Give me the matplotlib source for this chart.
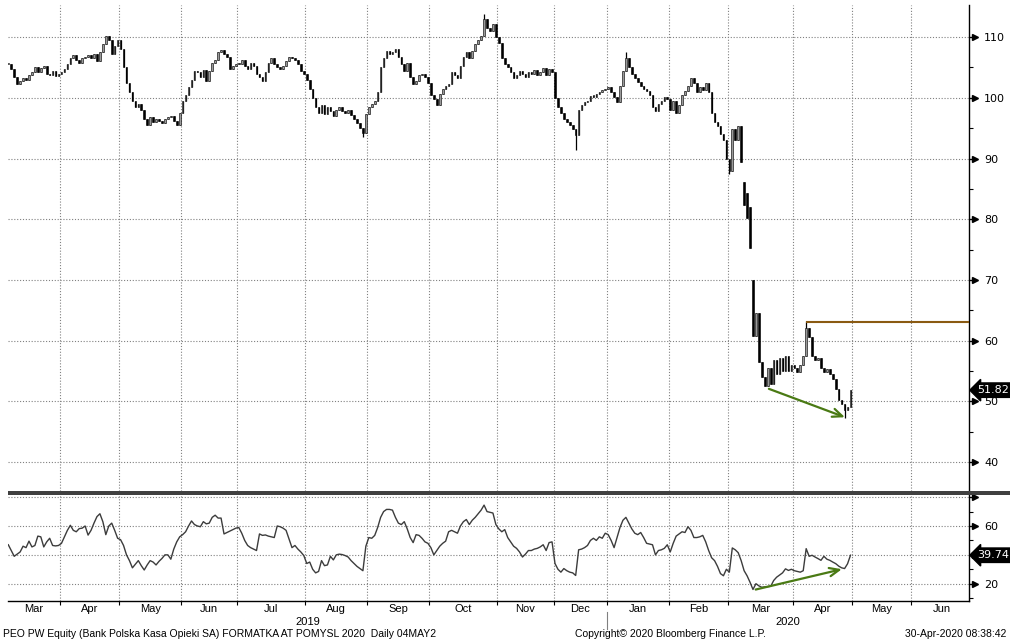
import matplotlib
matplotlib.use("Agg")
import matplotlib.pyplot as plt
from matplotlib.patches import Rectangle
import numpy as np

# month labels and number of trading sessions shown in each month
months = ["Mar", "Apr", "May", "Jun", "Jul", "Aug", "Sep", "Oct", "Nov", "Dec",
          "Jan", "Feb", "Mar", "Apr", "May", "Jun"]
month_days = [18, 20, 21, 19, 23, 21, 21, 23, 19, 18, 21, 20, 22, 20, 20, 21]
years = ["2019", "2020"]
months_in_year = [10, 6]

# daily closes, PEO PW
close_mar19 = [105.5, 104.8, 103.5, 102.3, 102.8, 103.2, 102.9, 103.8, 104.2, 105.0,
               104.3, 104.9, 105.3, 104.0, 103.8, 104.4, 103.6, 104.0]
close_apr19 = [104.3, 104.8, 105.5, 106.5, 107.0, 106.2, 105.8, 106.5, 106.8, 107.0,
               106.6, 107.3, 106.0, 107.5, 108.8, 110.2, 109.5, 107.2, 108.5, 109.6]
close_may19 = [108.0, 105.0, 102.5, 101.0, 99.5, 98.5, 99.0, 98.0, 96.5, 95.5,
               96.8, 96.0, 96.5, 96.2, 95.8, 96.5, 96.8, 97.0, 96.2, 95.5, 97.5]
close_jun19 = [99.5, 100.5, 101.8, 103.0, 104.5, 104.2, 103.5, 104.6, 102.8, 104.5,
               105.8, 106.2, 107.5, 107.9, 107.2, 106.8, 104.8, 105.3, 105.6]
close_jul19 = [105.5, 106.3, 105.2, 104.8, 105.8, 105.2, 104.0, 103.5, 102.8, 104.2,
               105.8, 106.5, 105.5, 105.0, 104.8, 105.2, 106.0, 106.8, 106.5, 106.2,
               105.5, 104.5, 104.0]
close_aug19 = [103.0, 101.5, 100.0, 98.5, 97.5, 98.8, 97.3, 98.5, 97.8, 97.0,
               98.0, 98.5, 97.8, 97.5, 98.0, 97.2, 96.5, 95.8, 95.0, 94.2, 97.3]
close_sep19 = [98.5, 99.0, 99.5, 101.0, 105.0, 106.5, 107.8, 107.2, 107.5, 108.0,
               106.8, 105.5, 104.5, 105.8, 103.5, 102.2, 102.8, 103.8, 104.0, 103.5, 102.5]
close_oct19 = [100.5, 99.8, 98.8, 100.6, 101.5, 102.0, 102.3, 104.2, 103.8, 103.2,
               105.3, 106.8, 107.5, 106.5, 107.8, 108.8, 109.5, 110.2, 113.0, 111.5,
               111.0, 112.2, 110.0]
close_nov19 = [109.0, 106.5, 105.5, 105.0, 104.2, 103.2, 103.8, 104.5, 103.9, 103.5,
               104.2, 104.0, 104.6, 103.8, 104.2, 104.9, 103.7, 104.8, 104.3]
close_dec19 = [100.0, 98.5, 97.5, 96.5, 96.0, 95.5, 94.8, 93.8, 98.0, 98.8,
               99.3, 99.5, 100.3, 100.2, 100.6, 101.0, 101.3, 101.5]
close_jan20 = [101.8, 101.0, 100.2, 99.3, 102.0, 104.5, 106.5, 105.0, 104.0, 103.2,
               102.6, 102.0, 101.5, 101.2, 100.5, 98.5, 97.8, 99.0, 99.5, 100.2, 99.8]
close_feb20 = [98.0, 99.5, 97.5, 98.8, 100.5, 101.2, 102.0, 103.2, 102.5, 101.0,
               101.8, 101.3, 102.4, 101.0, 97.5, 96.0, 95.3, 94.0, 93.0, 90.0]
close_mar20 = [88.0, 94.8, 93.0, 95.4, 89.5, 82.3, 80.2, 75.2, 60.7, 64.5,
               56.5, 54.0, 52.5, 55.5, 52.8, 56.8, 54.5, 57.2, 55.0, 57.5, 55.0, 56.0]
close_apr20 = [55.5, 54.8, 56.0, 57.5, 62.0, 60.5, 57.5, 56.8, 57.2, 55.5,
               54.8, 55.3, 54.5, 53.6, 52.0, 50.2, 49.5, 48.5, 49.0, 51.82]

# opens on gap days (bar number -> price); other days open at the prior close
gap_open = {249: 86.2, 250: 84.3, 251: 82.0, 252: 70.0}

# notable wick extremes (bar number -> price)
wick_high = {161: 113.8, 209: 107.5, 270: 63.2}
wick_low = {120: 93.5, 192: 91.4, 244: 87.4, 283: 47.3}

# RSI, lower panel
rsi_mar19 = [47, 43, 39, 40.5, 42, 46, 45, 49.5, 45.5, 46.5, 53, 52.5, 45.5, 49, 51.5,
             46.5, 46.2, 46.5]
rsi_apr19 = [48, 52.5, 57, 60.5, 57, 56, 58.2, 58.5, 60, 53.7, 57, 62, 66.5, 68.5, 63,
             54, 60, 62, 57, 51.5]
rsi_may19 = [50.5, 46.5, 40, 36, 31, 33.5, 36, 32.5, 29.5, 33, 36, 35, 33, 35.5, 37.5,
             40, 40, 37, 44, 49, 52.5]
rsi_jun19 = [54, 56, 60, 63.5, 61, 60, 59.5, 63, 61.5, 62, 66, 67.5, 65.5, 65.5, 54.5,
             55.5, 56.5, 57.5, 58.5]
rsi_jul19 = [59, 55, 50, 46.5, 45, 44, 43, 54.5, 53.5, 53.8, 53, 52.5, 52, 60, 59.5,
             58.5, 57, 51, 45, 46.5, 44, 42, 39.5]
rsi_aug19 = [34, 35, 30, 27.5, 28.5, 36, 32.5, 33, 39, 36.5, 40, 40.5, 40.2, 39.5, 38.5,
             36, 34, 32, 30.5, 29, 46]
rsi_sep19 = [52, 51.5, 53.5, 59, 66, 70, 71.5, 71.5, 71, 66, 62, 61, 63, 58, 52,
             48.5, 54, 53.5, 51.5, 49, 48]
rsi_oct19 = [45, 40, 43, 46, 48, 49.5, 56, 57, 56, 55, 60, 63, 64.5, 61, 64, 66, 68.5,
             71, 74.5, 70, 69.5, 69, 61]
rsi_nov19 = [58, 56, 57.5, 52, 49, 46, 44.5, 42, 38.5, 40.5, 43, 43, 44, 44.5, 45.5,
             47, 43, 48.5, 49]
rsi_dec19 = [34, 30, 28, 30.5, 29, 28, 27.5, 25.7, 43.5, 44, 45, 46.5, 50, 51.5, 50,
             52.5, 51.5, 55]
rsi_jan20 = [54, 50, 45, 52, 59, 64, 66, 62, 58, 55, 54, 55.5, 52, 48, 47.5, 47, 40,
             43, 43.5, 44.5, 47]
rsi_feb20 = [42, 48, 53, 54.5, 56, 55.5, 59.5, 57, 52, 52, 52.5, 53.5, 49, 43, 38, 36,
             32, 27, 25.5, 30]
rsi_mar20 = [28, 44.8, 43.5, 41.5, 36, 29, 25.5, 21, 16, 20, 18.5, 17.5, 17.8, 18, 18.2,
             22.2, 24.5, 26, 27.5, 30.3, 29.2, 30]
rsi_apr20 = [29, 28.5, 28, 29, 44.3, 39, 39.7, 38.5, 37.4, 36.2, 39, 37, 36.2, 35, 33.9,
             32.2, 31, 30.5, 33.8, 39.7416]

# annotations drawn on the chart
resistance = 63.0
resistance_from = 270
price_arrow = ((256.5, 52.2), (284.0, 47.2))
rsi_arrow = ((252.0, 15.5), (283.0, 30.5))

closes = np.array(close_mar19 + close_apr19 + close_may19 + close_jun19 + close_jul19 +
                  close_aug19 + close_sep19 + close_oct19 + close_nov19 + close_dec19 +
                  close_jan20 + close_feb20 + close_mar20 + close_apr20)
rsi = np.array(rsi_mar19 + rsi_apr19 + rsi_may19 + rsi_jun19 + rsi_jul19 + rsi_aug19 +
               rsi_sep19 + rsi_oct19 + rsi_nov19 + rsi_dec19 + rsi_jan20 + rsi_feb20 +
               rsi_mar20 + rsi_apr20)

x = np.arange(len(closes))
opens = np.concatenate([[closes[0]], closes[:-1]])
for k, v in gap_open.items():
    opens[k] = v
lo = np.minimum(opens, closes)
hi = np.maximum(opens, closes)
for k, v in wick_high.items():
    hi[k] = max(hi[k], v)
for k, v in wick_low.items():
    lo[k] = min(lo[k], v)
body_lo = np.minimum(opens, closes)
body_h = np.maximum(np.abs(closes - opens), 0.2)
up = closes >= opens

starts = np.concatenate([[0], np.cumsum(month_days)[:-1]])
bounds = starts - 0.5
centers = starts + (np.array(month_days) - 1) / 2.0
xmin, xmax = -0.1, 325.1

plt.rcParams['font.family'] = ['DejaVu Sans']
narrow = ['Liberation Sans', 'DejaVu Sans']
fig = plt.figure(figsize=(10.10, 6.43), dpi=100, facecolor='white')
W, H = 1010.0, 643.0
ax = fig.add_axes([8 / W, 1 - 491 / H, 961 / W, 486 / H])
ax2 = fig.add_axes([8 / W, 1 - 601 / H, 961 / W, 106 / H], sharex=ax)

grid_kw = dict(color='#808080', linewidth=0.8, linestyle=(0, (1, 1.6)), zorder=0)

# --- price panel
ax.vlines(x, lo, hi, color='black', linewidth=0.9, zorder=2)
ax.bar(x, body_h, bottom=body_lo, width=0.55,
       color=np.where(up, '#9a9a9a', 'black'), edgecolor='black', linewidth=0.4, zorder=3)
ax.set_xlim(xmin, xmax)
ax.set_ylim(35.2, 115.3)
for b in bounds[1:]:
    ax.axvline(b, **grid_kw)
for v in range(40, 111, 10):
    ax.axhline(v, **grid_kw)

ax.hlines(resistance, resistance_from, xmax, color='#8a5a12', linewidth=1.5, zorder=4)
ax.annotate('', xy=price_arrow[1], xytext=price_arrow[0],
            arrowprops=dict(arrowstyle='->,head_length=0.7,head_width=0.3',
                            color='#4a7a14', lw=1.6), zorder=5)

# --- RSI panel
ax2.plot(x, rsi, color='#3c3c3c', linewidth=1.0, zorder=3)
ax2.set_ylim(8.0, 81.5)
for b in bounds[1:]:
    ax2.axvline(b, **grid_kw)
for v in (20, 40, 60, 80):
    ax2.axhline(v, **grid_kw)
ax2.annotate('', xy=rsi_arrow[1], xytext=rsi_arrow[0],
             arrowprops=dict(arrowstyle='->,head_length=0.7,head_width=0.3',
                             color='#4a7a14', lw=1.6), zorder=5)

for a in (ax, ax2):
    a.yaxis.tick_right()
    for s in ('left', 'top'):
        a.spines[s].set_visible(False)
    a.spines['right'].set_linewidth(1.0)
    a.tick_params(axis='y', which='major', direction='out', length=4, width=1,
                  labelsize=8, pad=7, colors='black')
    a.tick_params(axis='y', which='minor', direction='out', length=3, width=0.8)
ax.spines['bottom'].set_visible(False)
ax.tick_params(axis='x', which='both', bottom=False, labelbottom=False)

ax.set_yticks(range(40, 111, 10))
ax.set_yticks([v for v in range(35, 116, 5) if v % 10 != 0 and 35 < v < 115], minor=True)
ax2.set_yticks([20, 40, 60, 80])
ax2.set_yticklabels(['20', '', '60', ''])
ax2.set_yticks([10, 30, 50, 70], minor=True)

# little right-pointing triangles on the labelled ticks
for a, vals in ((ax, range(40, 111, 10)), (ax2, (20, 40, 60, 80))):
    a.plot([1.006] * len(vals), list(vals), linestyle='none', marker='>', markersize=4,
           color='black', transform=a.get_yaxis_transform(), clip_on=False, zorder=6)

# x axis: month ticks and labels
ax2.set_xticks(bounds[1:])
ax2.set_xticklabels([])
ax2.set_xticks(centers, minor=True)
ax2.set_xticklabels(months, minor=True)
ax2.tick_params(axis='x', which='major', direction='out', length=3, width=0.8)
ax2.tick_params(axis='x', which='minor', length=0, pad=2, labelsize=8)
for lab in ax2.get_xticklabels(minor=True):
    lab.set_family(narrow)
ax2.spines['bottom'].set_linewidth(1.0)

# year row
yr_start = 0
for yr, n in zip(years, months_in_year):
    lo_b = bounds[yr_start] if yr_start > 0 else xmin
    hi_b = bounds[yr_start + n] if yr_start + n < len(bounds) else xmax
    ax2.text((lo_b + hi_b) / 2, -0.195, yr, transform=ax2.get_xaxis_transform(),
             ha='center', va='center', fontsize=8, family=narrow)
    yr_start += n
sep_x = bounds[months_in_year[0]]
ax2.plot([sep_x, sep_x], [-0.1, -0.26], color='#808080', linewidth=0.8,
         transform=ax2.get_xaxis_transform(), clip_on=False)

# separator between panels
fig.patches.append(Rectangle((8 / W, 1 - 495 / H), 1 - 8 / W, 4 / H, transform=fig.transFigure,
                             facecolor='#404040', edgecolor='none', zorder=10))

# last value tags
tag_kw = dict(color='white', fontsize=8, va='center', ha='left', zorder=10, clip_on=False,
              bbox=dict(boxstyle='larrow,pad=0.2', facecolor='black', edgecolor='black'))
ax.text(1.009, closes[-1], f'{closes[-1]:.2f}', transform=ax.get_yaxis_transform(), **tag_kw)
ax2.text(1.009, rsi[-1], f'{rsi[-1]:.4f}', transform=ax2.get_yaxis_transform(), **tag_kw)

# footer
foot_kw = dict(fontsize=7.5, va='center', family=narrow)
fig.text(3 / W, 1 - 634 / H,
         'PEO PW Equity (Bank Polska Kasa Opieki SA) FORMATKA AT POMYSL 2020  Daily 04MAY2',
         ha='left', **foot_kw)
fig.text(575 / W, 1 - 634 / H, 'Copyright\u00a9 2020 Bloomberg Finance L.P.', ha='left', **foot_kw)
fig.text(905 / W, 1 - 634 / H, '30-Apr-2020 08:38:42', ha='left', **foot_kw)

fig.savefig('out.png', dpi=100, facecolor='white')
